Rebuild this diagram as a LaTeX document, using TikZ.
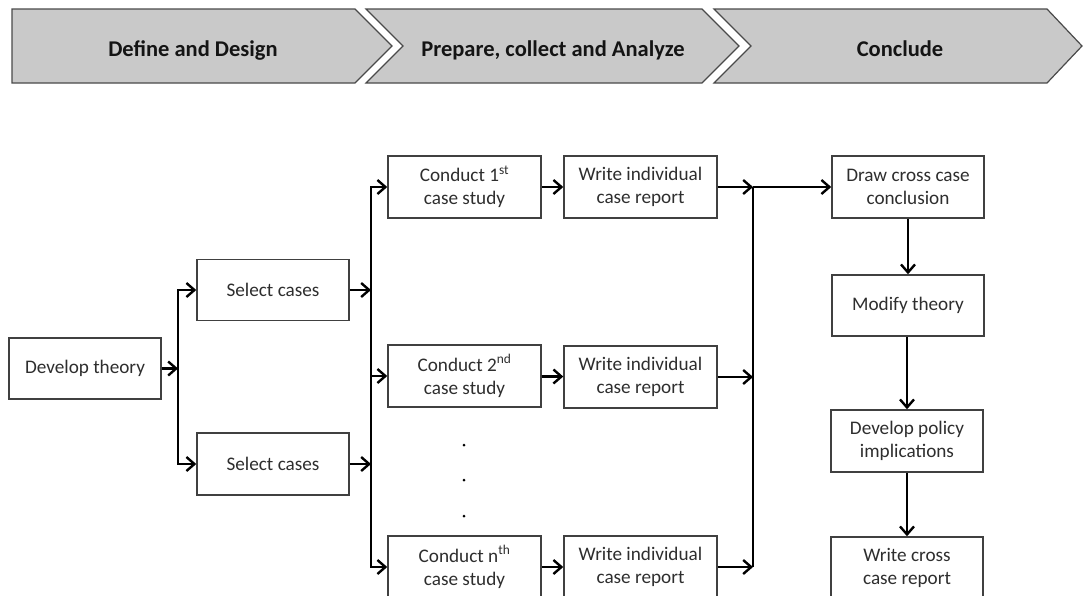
\documentclass[tikz,border=0pt]{standalone}
\usepackage{fontspec}
\setmainfont{Carlito}
\usetikzlibrary{arrows.meta}
\definecolor{bandfill}{HTML}{C9C9C9}
\definecolor{bandline}{HTML}{4A4A4A}
\definecolor{boxline}{HTML}{404040}
\definecolor{boxtext}{HTML}{2E2E2E}
\tikzset{
  band/.style={fill=bandfill, draw=bandline, line width=1.2pt, line join=miter},
  bandlabel/.style={anchor=base, font=\fontsize{22.5}{27}\selectfont\bfseries, text=black!92},
  stepbox/.style={draw=boxline, line width=1.5pt, fill=white, align=center,
    minimum width=152pt, minimum height=61pt, inner sep=0pt,
    font=\fontsize{19.2}{23}\selectfont, text=boxtext},
  flow/.style={line width=2.6pt, black, -{Straight Barb[length=8pt,width=14pt,line width=2.4pt]}},
  bus/.style={line width=2.6pt, black},
  dot/.style={circle, fill=black, inner sep=0pt, minimum size=3pt}
}
\begin{document}
\begin{tikzpicture}[x=1pt, y=-1pt]
\useasboundingbox (0,0) rectangle (1083,595);
\clip (0,0) rectangle (1083,595);

% phase banner
\draw[band] (12,9) -- (355,9) -- (392,46) -- (355,83) -- (12,83) -- cycle;
\draw[band] (366,9) -- (702,9) -- (739,46) -- (702,83) -- (366,83) -- (403,46) -- cycle;
\draw[band] (714,9) -- (1047,9) -- (1082,46) -- (1047,83) -- (714,83) -- (751,46) -- cycle;
\node[bandlabel] (p1) at (193,56) {Define and Design};
\node[bandlabel] (p2) at (553,56) {Prepare, collect and Analyze};
\node[bandlabel] (p3) at (900,56) {Conclude};

% design
\node[stepbox] (dt) at (85,368.5) {Develop theory};
\node[stepbox] (s1) at (273,290) {Select cases};
\node[stepbox, minimum height=62pt] (s2) at (273,464) {Select cases};

% case studies
\node[stepbox, minimum width=153pt, minimum height=62pt] (c1) at (464.5,187) {Conduct 1\textsuperscript{st}\\case study};
\node[stepbox, minimum width=153pt, minimum height=62pt] (c2) at (464.5,376) {Conduct 2\textsuperscript{nd}\\case study};
\node[stepbox, minimum width=153pt, minimum height=62pt] (cn) at (464.5,567) {Conduct n\textsuperscript{th}\\case study};
\node[stepbox, minimum width=153pt, minimum height=62pt] (w1) at (640.5,187) {Write individual\\case report};
\node[stepbox, minimum width=153pt, minimum height=62pt] (w2) at (640.5,377) {Write individual\\case report};
\node[stepbox, minimum width=153pt, minimum height=62pt] (wn) at (640.5,567) {Write individual\\case report};
\node[dot] (d1) at (464,445) {};
\node[dot] (d2) at (464,480) {};
\node[dot] (d3) at (464,516) {};

% conclusion
\node[stepbox, minimum height=62pt] (dc) at (908,187) {Draw cross case\\conclusion};
\node[stepbox] (mt) at (908,305.5) {Modify theory};
\node[stepbox, minimum height=62pt] (dp) at (907,441) {Develop policy\\implications};
\node[stepbox, minimum height=62pt] (wc) at (907,568) {Write cross\\case report};

% junction points on the buses
\coordinate (b1) at (178,368.5);
\coordinate (b2a) at (371,290);
\coordinate (b2b) at (371,464);
\coordinate (b3) at (753,187);
\coordinate (b3b) at (753,567);

% connectors
\draw[flow] (dt.east) -- (b1);
\draw[flow] (b1) |- (s1.west);
\draw[flow] (b1) |- (s2.west);
\draw[flow] (s1.east) -- (b2a);
\draw[flow] (s2.east) -- (b2b);
\draw[bus] (b2a) -- (b2b);
\draw[flow] (b2a) |- (c1.west);
\draw[flow] (b2a |- c2.west) -- (c2.west);
\draw[flow] (b2b) |- (cn.west);
\draw[flow] (c1) -- (w1);
\draw[flow] (c2) -- (w2);
\draw[flow] (cn) -- (wn);
\draw[flow] (w1.east) -- (b3);
\draw[flow] (w2.east) -- (b3 |- w2.east);
\draw[flow] (wn.east) -- (b3b);
\draw[bus] (b3) -- (b3b);
\draw[flow] (b3) -- (dc.west);
\draw[flow] (dc) -- (mt);
\draw[flow] (mt.south -| dp.north) -- (dp);
\draw[flow] (dp) -- (wc);
\end{tikzpicture}
\end{document}
